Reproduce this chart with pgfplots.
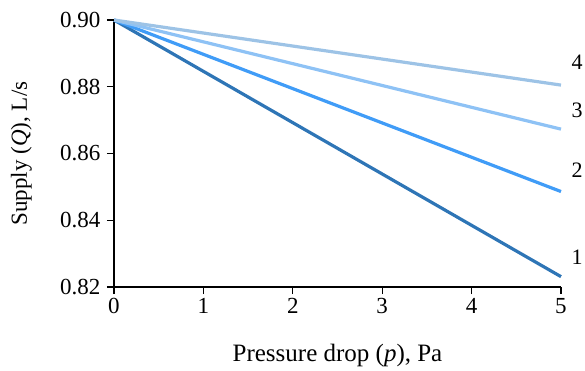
\documentclass[border=0pt]{standalone}
\usepackage{pgfplots}
\pgfplotsset{compat=1.18}
\usepackage{fontspec}
\setmainfont{Liberation Serif}
\definecolor{c1}{HTML}{2E75B6}
\definecolor{c2}{HTML}{409CF7}
\definecolor{c3}{HTML}{8EC2F5}
\definecolor{c4}{HTML}{9DC3E6}
\begin{document}
\begin{tikzpicture}
\begin{axis}[
  scale only axis, width=447bp, height=267bp,
  xmin=0, xmax=5, ymin=0.82, ymax=0.90,
  axis x line=bottom, axis y line=left,
  x axis line style={-, line width=1.2bp},
  y axis line style={-, line width=1.2bp},
  xtick={0,1,2,3,4,5}, ytick={0.82,0.84,0.86,0.88,0.90},
  yticklabels={0.82,0.84,0.86,0.88,0.90},
  xticklabels={0,1,2,3,4,5},
  xtick align=outside, ytick align=outside,
  major tick length=7bp,
  major tick style={draw=black, line width=1.2bp},
  xticklabel style={font=\fontsize{23bp}{27bp}\selectfont, yshift=-1bp},
  yticklabel style={font=\fontsize{23bp}{27bp}\selectfont, xshift=-3bp},
  xlabel style={font=\fontsize{25bp}{29bp}\selectfont, at={(axis description cs:0.5,0)}, anchor=base, yshift=-74bp},
  ylabel style={font=\fontsize{23bp}{27bp}\selectfont, at={(axis description cs:0,0.5)}, anchor=base, yshift=87bp},
  xlabel={Pressure drop (\textit{p}), Pa},
  ylabel={Supply (\textit{Q}), L/s},
  clip=false,
]
\addplot[c1, line width=3.2bp] coordinates {(0,0.90) (5,0.8231)};
\addplot[c2, line width=3.2bp] coordinates {(0,0.90) (5,0.8486)};
\addplot[c3, line width=3.2bp] coordinates {(0,0.90) (5,0.8673)};
\addplot[c4, line width=3.2bp] coordinates {(0,0.90) (5,0.8805)};
\draw[line width=1.2bp] (axis cs:0,0.82) -- ([yshift=-7bp]axis cs:0,0.82);
\draw[line width=1.2bp] (axis cs:1,0.82) -- ([yshift=-7bp]axis cs:1,0.82);
\draw[line width=1.2bp] (axis cs:2,0.82) -- ([yshift=-7bp]axis cs:2,0.82);
\draw[line width=1.2bp] (axis cs:3,0.82) -- ([yshift=-7bp]axis cs:3,0.82);
\draw[line width=1.2bp] (axis cs:4,0.82) -- ([yshift=-7bp]axis cs:4,0.82);
\draw[line width=1.2bp] (axis cs:5,0.82) -- ([yshift=-7bp]axis cs:5,0.82);
\draw[line width=1.2bp] (axis cs:0,0.82) -- ([xshift=-7bp]axis cs:0,0.82);
\draw[line width=1.2bp] (axis cs:0,0.84) -- ([xshift=-7bp]axis cs:0,0.84);
\draw[line width=1.2bp] (axis cs:0,0.86) -- ([xshift=-7bp]axis cs:0,0.86);
\draw[line width=1.2bp] (axis cs:0,0.88) -- ([xshift=-7bp]axis cs:0,0.88);
\draw[line width=1.2bp] (axis cs:0,0.90) -- ([xshift=-7bp]axis cs:0,0.90);
\node[anchor=center, font=\fontsize{22bp}{26bp}\selectfont] at (axis cs:5.18,0.829) {1};
\node[anchor=center, font=\fontsize{22bp}{26bp}\selectfont] at (axis cs:5.18,0.855) {2};
\node[anchor=center, font=\fontsize{22bp}{26bp}\selectfont] at (axis cs:5.18,0.873) {3};
\node[anchor=center, font=\fontsize{22bp}{26bp}\selectfont] at (axis cs:5.18,0.8874) {4};
\end{axis}
\pgfresetboundingbox
\path (current axis.south west) ++(-114bp,-84bp) rectangle ++(585bp,371bp);
\end{tikzpicture}
\end{document}
